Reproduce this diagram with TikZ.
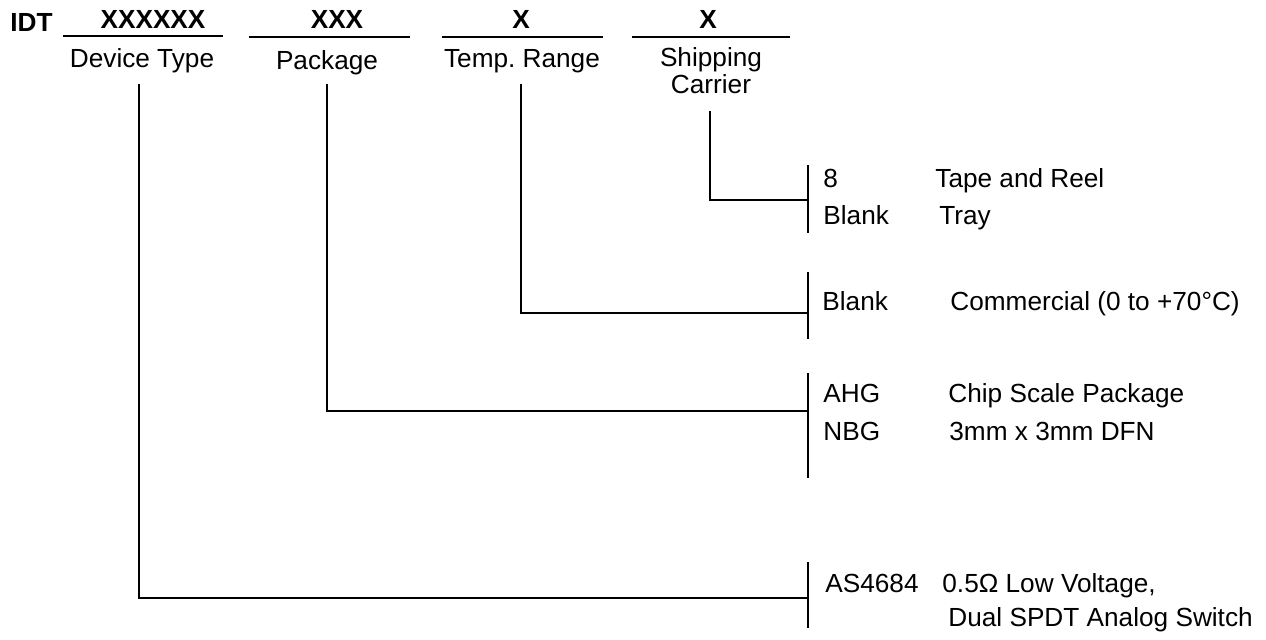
\documentclass[tikz,border=0pt]{standalone}
\usepackage{fontspec}
\setmainfont{Liberation Sans}
\frenchspacing
\begin{document}
\begin{tikzpicture}[x=0.5pt,y=-0.5pt,
  txt/.style={inner sep=0pt,font=\fontsize{13.1}{15}\selectfont},
  hdr/.style={txt,anchor=base,font=\fontsize{13.1}{15}\selectfont\bfseries},
  lbl/.style={txt,anchor=base},
  opt/.style={txt,anchor=base west},
  wire/.style={line width=1pt,line cap=rect},
  rule/.style={line width=1pt}]
\useasboundingbox (0,0) rectangle (1266,639);
% header
\node[hdr,anchor=base west] (idt) at (10,31) {IDT};
\node[hdr] (hx1) at (153,28) {XXXXXX};
\node[hdr] (hx2) at (337,28) {XXX};
\node[hdr] (hx3) at (521,28) {X};
\node[hdr] (hx4) at (708,28) {X};
\coordinate (u1a) at (63,36);  \coordinate (u1b) at (223,36);
\coordinate (u2a) at (249,37); \coordinate (u2b) at (410,37);
\coordinate (u3a) at (442,37); \coordinate (u3b) at (603,37);
\coordinate (u4a) at (632,37); \coordinate (u4b) at (790,37);
\draw[rule] (u1a) -- (u1b);
\draw[rule] (u2a) -- (u2b);
\draw[rule] (u3a) -- (u3b);
\draw[rule] (u4a) -- (u4b);
\node[lbl] (ldev) at (142,67) {Device Type};
\node[lbl] (lpkg) at (327,69) {Package};
\node[lbl] (ltmp) at (522,67) {Temp. Range};
\node[lbl] (lship) at (711,66) {Shipping};
\node[lbl] (lcarr) at (711,93) {Carrier};
% connector start / corner points
\coordinate (sdev) at (139,85);  \coordinate (cdev) at (139,598);
\coordinate (spkg) at (327,85);  \coordinate (cpkg) at (327,411);
\coordinate (stmp) at (521,85);  \coordinate (ctmp) at (521,313);
\coordinate (sshp) at (710,112); \coordinate (cshp) at (710,200);
% brackets
\coordinate (bshpT) at (808,165); \coordinate (bshpB) at (808,233); \coordinate (bshp) at (808,200);
\coordinate (btmpT) at (808,272); \coordinate (btmpB) at (808,339); \coordinate (btmp) at (808,313);
\coordinate (bpkgT) at (808,373); \coordinate (bpkgB) at (808,478); \coordinate (bpkg) at (808,411);
\coordinate (bdevT) at (808,562); \coordinate (bdevB) at (808,628); \coordinate (bdev) at (808,598);
\draw[rule] (bshpT) -- (bshpB);
\draw[rule] (btmpT) -- (btmpB);
\draw[rule] (bpkgT) -- (bpkgB);
\draw[rule] (bdevT) -- (bdevB);
\draw[wire] (sshp) -- (cshp) -- (bshp);
\draw[wire] (stmp) -- (ctmp) -- (btmp);
\draw[wire] (spkg) -- (cpkg) -- (bpkg);
\draw[wire] (sdev) -- (cdev) -- (bdev);
% options
\node[opt] (o8) at (823,187) {8};
\node[opt] (o8d) at (935,187) {Tape and Reel};
\node[opt] (oblk) at (823,224) {Blank};
\node[opt] (oblkd) at (939,224) {Tray};
\node[opt] (otmp) at (822,310) {Blank};
\node[opt] (otmpd) at (950,310) {Commercial (0 to +70°C)};
\node[opt] (oahg) at (823,402) {AHG};
\node[opt] (oahgd) at (948,402) {Chip Scale Package};
\node[opt] (onbg) at (823,440) {NBG};
\node[opt] (onbgd) at (949,440) {3mm x 3mm DFN};
\node[opt] (oas) at (825,592) {AS4684};
\node[opt] (oasd1) at (942,592) {0.5Ω Low Voltage,};
\node[opt] (oasd2) at (948,626) {Dual SPDT Analog Switch};
\end{tikzpicture}
\end{document}
